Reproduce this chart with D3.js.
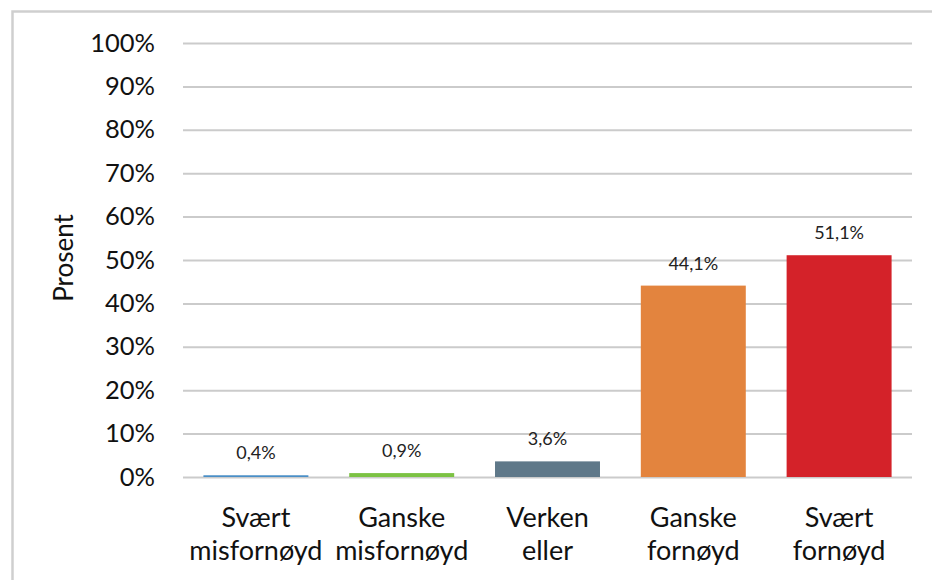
<!DOCTYPE html>
<html>
<head>
<meta charset="utf-8">
<script src="https://cdn.jsdelivr.net/npm/d3@7"></script>
<style>
  body { margin: 0; background: #fff; }
  svg { display: block; font-family: Lato, "Open Sans", sans-serif; }
</style>
</head>
<body>
<svg id="chart" width="932" height="580"></svg>
<script>
// categories (two-line labels) and values in percent
var categories = ["Svært misfornøyd", "Ganske misfornøyd", "Verken eller", "Ganske fornøyd", "Svært fornøyd"];
var labelLines = [["Svært", "misfornøyd"], ["Ganske", "misfornøyd"], ["Verken", "eller"], ["Ganske", "fornøyd"], ["Svært", "fornøyd"]];
var values = [0.4, 0.9, 3.6, 44.1, 51.1];
var valueLabels = ["0,4%", "0,9%", "3,6%", "44,1%", "51,1%"];
var barColors = ["#4a8fc7", "#7cc243", "#5f7889", "#e3843e", "#d42229"];
var yTicks = [0, 10, 20, 30, 40, 50, 60, 70, 80, 90, 100];

var svg = d3.select("#chart");

var plotLeft = 183, plotRight = 912, plotTop = 43, plotBottom = 477;

// outer frame
svg.append("rect")
    .attr("x", 12.5).attr("y", 11.5)
    .attr("width", 940).attr("height", 600)
    .attr("fill", "none")
    .attr("stroke", "#cfcfcf")
    .attr("stroke-width", 2.5);

var x = d3.scaleBand()
    .domain(categories)
    .range([plotLeft, plotRight])
    .paddingInner(0.28)
    .paddingOuter(0.14);

var y = d3.scaleLinear()
    .domain([0, 100])
    .range([plotBottom, plotTop]);

// gridlines + y labels
var yAxis = d3.axisLeft(y)
    .tickValues(yTicks)
    .tickSize(-(plotRight - plotLeft))
    .tickPadding(28)
    .tickFormat(function (d) { return d + "%"; });

var gy = svg.append("g")
    .attr("transform", "translate(" + plotLeft + ",0)")
    .call(yAxis);
gy.select(".domain").remove();
gy.selectAll(".tick line").attr("stroke", "#cbcbcb").attr("stroke-width", 2);
gy.selectAll(".tick text")
    .attr("fill", "#111")
    .style("font-size", "25.5px")
    .style("font-family", "Lato, 'Open Sans', sans-serif");

// bars
svg.append("g").selectAll("rect")
    .data(values)
    .join("rect")
    .attr("x", function (d, i) { return x(categories[i]); })
    .attr("width", x.bandwidth())
    .attr("y", function (d) { return y(d); })
    .attr("height", function (d) { return plotBottom - y(d); })
    .attr("fill", function (d, i) { return barColors[i]; });

// value labels
svg.append("g").selectAll("text")
    .data(values)
    .join("text")
    .attr("x", function (d, i) { return x(categories[i]) + x.bandwidth() / 2; })
    .attr("y", function (d) { return y(d) - 16; })
    .attr("text-anchor", "middle")
    .attr("fill", "#222")
    .style("font-size", "18px")
    .text(function (d, i) { return valueLabels[i]; });

// category labels
var cat = svg.append("g").selectAll("text")
    .data(categories)
    .join("text")
    .attr("text-anchor", "middle")
    .attr("fill", "#111")
    .style("font-size", "27px");
cat.each(function (d, i) {
    var t = d3.select(this);
    labelLines[i].forEach(function (line, j) {
        t.append("tspan")
            .attr("x", x(d) + x.bandwidth() / 2)
            .attr("y", 527 + j * 33)
            .text(line);
    });
});

// y axis title
svg.append("text")
    .attr("transform", "translate(73," + ((plotTop + plotBottom) / 2 - 2) + ") rotate(-90)")
    .attr("text-anchor", "middle")
    .attr("fill", "#111")
    .style("font-size", "26px")
    .text("Prosent");
</script>
</body>
</html>
